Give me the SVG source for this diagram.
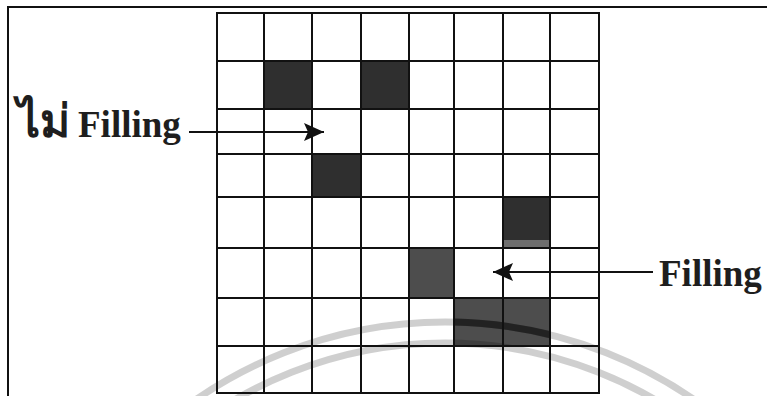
<svg xmlns="http://www.w3.org/2000/svg" width="767" height="396" viewBox="0 0 767 396">
<defs>
<style>
.grid{stroke:#111;stroke-width:2;fill:none}
.frame{stroke:#111;stroke-width:2;fill:none}
.dark{fill:#2f2f2f}
.mid{fill:#4d4d4d}
.wm{fill:none;stroke:#000;stroke-opacity:0.19;stroke-width:7}
.wmd{fill:none;stroke:#111;stroke-opacity:0.6;stroke-width:7}
.lbl{font-family:"Liberation Serif","DejaVu Serif","Noto Sans",serif;font-weight:bold;font-size:37px;fill:#1e1e1e}
.conn{stroke:#111;stroke-width:2;fill:none}
</style>
<marker id="ah" viewBox="0 0 20 18" refX="20" refY="9" markerWidth="20" markerHeight="18" markerUnits="userSpaceOnUse" orient="auto">
<path d="M0,0 L20,9 L0,18 L4,9 Z" fill="#111"/>
</marker>
<clipPath id="cc"><rect x="454" y="298" width="96" height="48"/></clipPath>
</defs>
<rect width="767" height="396" fill="#fff"/>
<path class="frame" d="M8,396 V7 H767"/>
<g id="cells">
<rect class="dark" x="264" y="61" width="48" height="48"/>
<rect class="dark" x="361" y="61" width="48" height="48"/>
<rect class="dark" x="312" y="154" width="49" height="43"/>
<rect class="dark" x="503" y="197" width="47" height="43"/>
<rect fill="#6e6e6e" x="503" y="240" width="47" height="8"/>
<rect class="mid" x="409" y="248" width="45" height="50"/>
<rect class="mid" x="454" y="298" width="96" height="48"/>
</g>
<g id="watermark">
<circle class="wm" cx="445" cy="760" r="438"/>
<circle class="wm" cx="445" cy="760" r="417"/>
<circle class="wmd" cx="445" cy="760" r="438" clip-path="url(#cc)"/>
</g>
<g id="grid">
<path class="grid" d="M217,13 H599 V393 H217 Z M264,13 V393 M312,13 V393 M361,13 V393 M409,13 V393 M454,13 V393 M503,13 V393 M550,13 V393 M217,61 H599 M217,109 H599 M217,154 H599 M217,197 H599 M217,248 H599 M217,298 H599 M217,346 H599"/>
</g>
<g id="connectors">
<line class="conn" x1="189" y1="132" x2="324" y2="132" marker-end="url(#ah)"/>
<line class="conn" x1="653" y1="272" x2="493" y2="272" marker-end="url(#ah)"/>
</g>
<g id="label-no-filling">
<text class="lbl" x="17" y="137"><tspan style="font-size:46px">ไม่</tspan><tspan x="78">Filling</tspan></text>
</g>
<g id="label-filling">
<text class="lbl" x="659" y="286">Filling</text>
</g>
</svg>
